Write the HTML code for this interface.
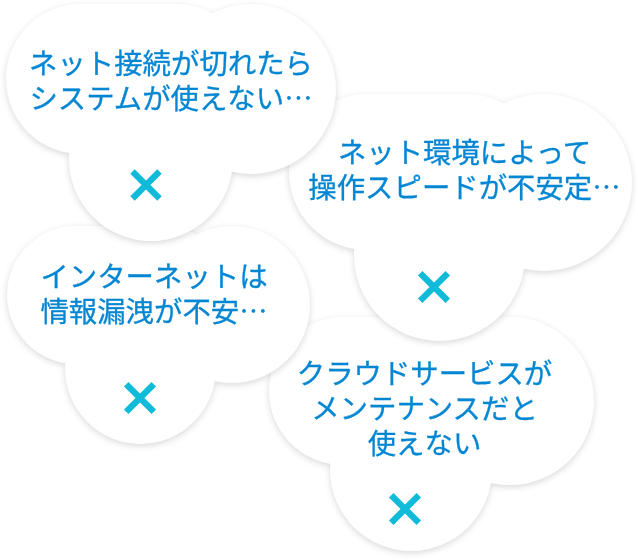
<!DOCTYPE html>
<html lang="ja">
<head>
<meta charset="utf-8">
<title>クラウドサービスの不安</title>
<style>
html,body{margin:0;padding:0;background:#fff;}
body{width:638px;height:560px;position:relative;overflow:hidden;
  font-family:"Liberation Sans","Noto Sans CJK JP",sans-serif;}
.cloud{position:absolute;left:0;top:0;width:638px;height:560px;
  filter:drop-shadow(0 2px 3px rgba(0,0,0,.15));}
.cloud i{position:absolute;display:block;background:#fff;border-radius:50%;}
.txt{position:absolute;margin:0;text-align:center;color:#0486d3;font-size:28.4px;line-height:35px;
  white-space:nowrap;font-weight:400;-webkit-text-stroke:0.3px #0486d3;}
.e{font-family:"Noto Sans CJK JP",sans-serif;line-height:0;-webkit-text-stroke:0;}
.x{position:absolute;width:34px;height:34px;}
.x svg{display:block;}
</style>
</head>
<body>
<!-- c1 -->
<div class="cloud" id="c1" style="z-index:4">
  <i style="left:6.1px;top:4.2px;width:245.09px;height:149.35px;border-radius:74.68px/74.68px"></i>
  <i style="left:166.28px;top:4.2px;width:169.82px;height:169.81px"></i>
  <i style="left:69px;top:76.24px;width:164.47px;height:164.46px"></i>
  <p class="txt" style="left:6px;top:47px;width:330px">ネット接続が切れたら<br>システムが使えない<span class="e">…</span></p>
  <div class="x" style="left:128.5px;top:167.7px"><svg width="34" height="34" viewBox="0 0 34 34"><path d="M3.5 3.5L30.5 30.5M30.5 3.5L3.5 30.5" stroke="#10bbda" stroke-width="6.3" fill="none"/></svg></div>
</div>
<!-- c2 -->
<div class="cloud" id="c2" style="z-index:3">
  <i style="left:288.7px;top:94.1px;width:254.97px;height:155.67px;border-radius:77.69px/77.83px"></i>
  <i style="left:455.34px;top:94.1px;width:176.66px;height:176.99px"></i>
  <i style="left:354.13px;top:169.18px;width:171.1px;height:171.42px"></i>
  <p class="txt" style="left:292px;top:136px;width:345px">ネット環境によって<br>操作スピードが不安定<span class="e">…</span></p>
  <div class="x" style="left:417.2px;top:269.9px"><svg width="34" height="34" viewBox="0 0 34 34"><path d="M3.2 3.2L30.8 30.8M30.8 3.2L3.2 30.8" stroke="#10bbda" stroke-width="6.3" fill="none"/></svg></div>
</div>
<!-- c3 -->
<div class="cloud" id="c3" style="z-index:2">
  <i style="left:6.7px;top:225.9px;width:225.26px;height:138.05px;border-radius:68.64px/69.02px"></i>
  <i style="left:153.92px;top:225.9px;width:156.08px;height:156.96px"></i>
  <i style="left:64.51px;top:292.48px;width:151.16px;height:152.02px"></i>
  <p class="txt" style="left:13.5px;top:260px;width:281px">インターネットは<br>情報漏洩が不安<span class="e">…</span></p>
  <div class="x" style="left:122.9px;top:380.9px"><svg width="34" height="34" viewBox="0 0 34 34"><path d="M3.2 3.2L30.8 30.8M30.8 3.2L3.2 30.8" stroke="#10bbda" stroke-width="6.3" fill="none"/></svg></div>
</div>
<!-- c4 -->
<div class="cloud" id="c4" style="z-index:1">
  <i style="left:268.5px;top:317px;width:241.45px;height:148.09px;border-radius:73.57px/74.04px"></i>
  <i style="left:426.3px;top:317px;width:167.3px;height:168.37px"></i>
  <i style="left:330.46px;top:388.43px;width:162.03px;height:163.07px"></i>
  <p class="txt" style="left:266.5px;top:357px;width:316px">クラウドサービスが<br>メンテナンスだと<br>使えない</p>
  <div class="x" style="left:388px;top:491.9px"><svg width="34" height="34" viewBox="0 0 34 34"><path d="M3.2 3.2L30.8 30.8M30.8 3.2L3.2 30.8" stroke="#10bbda" stroke-width="6.3" fill="none"/></svg></div>
</div>
</body>
</html>
